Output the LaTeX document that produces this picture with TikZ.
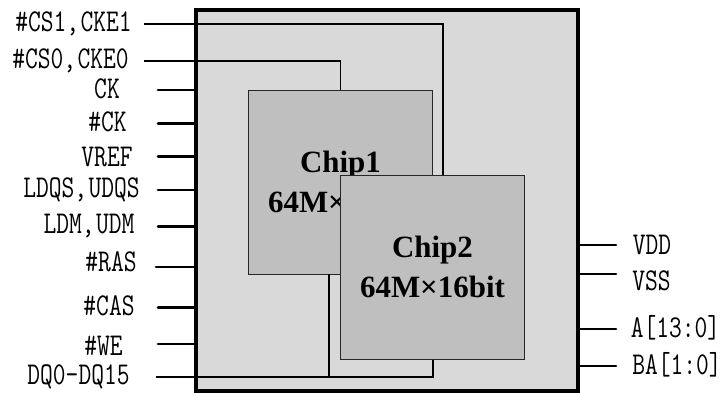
\documentclass[tikz,border=0pt]{standalone}
\usepackage{fontspec}
\setmainfont{Liberation Serif}
\setmonofont{Latin Modern Mono}
\definecolor{pkgfill}{HTML}{D9D9D9}
\definecolor{chipfill}{HTML}{BFBFBF}
\newcommand{\pinlabel}[1]{\scalebox{1}[1.28]{\fontsize{18.6pt}{20pt}\selectfont\ttfamily #1}}
\newcommand{\cgap}{,\kern0.05em}
\tikzset{
  x=0.75pt,y=-0.75pt,
  pkg/.style={draw=black,line width=2.3pt,fill=pkgfill,inner sep=0pt,minimum width=382*0.75pt,minimum height=381*0.75pt},
  chip/.style={draw=black!85,line width=0.7pt,fill=chipfill,inner sep=0pt,minimum width=184.5*0.75pt,minimum height=184*0.75pt,
    font=\bfseries\fontsize{23.2pt}{29.5pt}\selectfont,align=center},
  pin/.style={inner sep=0pt},
  thinwire/.style={draw=black,line width=1.1pt},
  thickwire/.style={draw=black,line width=2.2pt,line cap=round},
}
\begin{document}
\begin{tikzpicture}
\useasboundingbox (0,0) rectangle (723,392);
\node[pkg] (pkg) at (387,200.5) {};
\node[chip] (chip1) at (340.5,182) {Chip1\\64M×16bit};
% pin labels
\node[pin] (lcs1) at (73.5,24) {\pinlabel{\#CS1\cgap CKE1}};
\node[pin] (lcs0) at (70.5,61) {\pinlabel{\#CS0\cgap CKE0}};
\node[pin] (lck) at (107,89) {\pinlabel{CK}};
\node[pin] (lnck) at (107.5,122) {\pinlabel{\#CK}};
\node[pin] (lvref) at (107,157) {\pinlabel{VREF}};
\node[pin] (lldqs) at (81.5,189.5) {\pinlabel{LDQS\cgap UDQS}};
\node[pin] (lldm) at (89,226) {\pinlabel{LDM\cgap UDM}};
\node[pin] (lras) at (111,262) {\pinlabel{\#RAS}};
\node[pin] (lcas) at (109,306) {\pinlabel{\#CAS}};
\node[pin] (lwe) at (103.5,346) {\pinlabel{\#WE}};
\node[pin] (ldq) at (78.5,376.5) {\pinlabel{DQ0-DQ15}};
\node[pin] (lvdd) at (652,245) {\pinlabel{VDD}};
\node[pin] (lvss) at (651.5,281) {\pinlabel{VSS}};
\node[pin] (la) at (675.5,328) {\pinlabel{A[13:0]}};
\node[pin] (lba) at (677,365) {\pinlabel{BA[1:0]}};
% free wire ends
\coordinate (ecs1) at (144,24);
\coordinate (ecs0) at (144,61);
\coordinate (eck) at (158,90);
\coordinate (enck) at (158,123.5);
\coordinate (evref) at (158,156.5);
\coordinate (eldqs) at (158,190);
\coordinate (eldm) at (158,226.5);
\coordinate (eras) at (156,267);
\coordinate (ecas) at (158,307.5);
\coordinate (ewe) at (158,344);
\coordinate (edq) at (156,377);
\coordinate (evdd) at (616,245);
\coordinate (evss) at (616,274);
\coordinate (ea) at (616,329);
\coordinate (eba) at (616,366);
\coordinate (j1) at (443,175);
\coordinate (j0) at (340.5,90);
\coordinate (d1) at (329,274);
\coordinate (d2) at (433,359);
\coordinate (dj) at (329,377);
% wires
\draw[thinwire] (ecs1) -| (j1);
\draw[thinwire] (ecs0) -| (j0);
\draw[thinwire] (edq) -- (dj) -- (d1);
\draw[thinwire] (dj) -| (d2);
\foreach \e in {eck,enck,evref,eldqs,eldm,eras,ecas,ewe}
  \draw[thickwire] (\e) -- (\e -| pkg.west);
\foreach \e in {evdd,evss,ea,eba}
  \draw[thickwire] (\e -| pkg.east) -- (\e);
\node[chip] (chip2) at (432.5,267) {Chip2\\64M×16bit};
\end{tikzpicture}
\end{document}
